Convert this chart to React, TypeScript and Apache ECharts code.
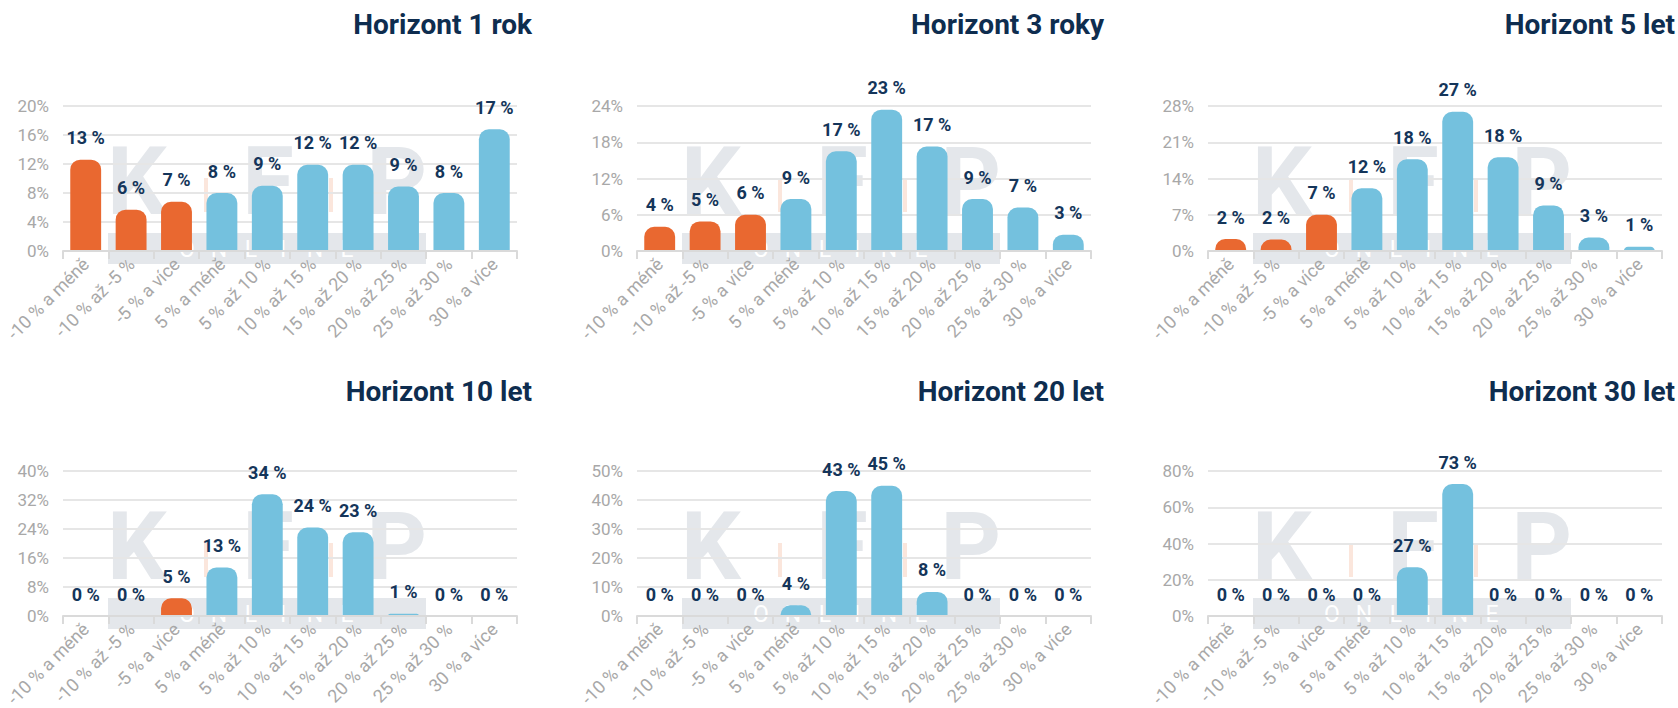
import React, { useEffect, useRef } from "react";
import * as echarts from "echarts";

const categories = [
  "-10 % a méně",
  "-10 % až -5 %",
  "-5 % a více",
  "5 % a méně",
  "5 % až 10 %",
  "10 % až 15 %",
  "15 % až 20 %",
  "20 % až 25 %",
  "25 % až 30 %",
  "30 % a více",
];

const titles = [
  "Horizont 1 rok",
  "Horizont 3 roky",
  "Horizont 5 let",
  "Horizont 10 let",
  "Horizont 20 let",
  "Horizont 30 let",
];

const horizon1 = [12.6, 5.7, 6.8, 8.0, 9.0, 11.9, 11.9, 8.9, 8.0, 16.8];
const horizon3 = [4.0, 4.9, 6.0, 8.6, 16.5, 23.4, 17.3, 8.6, 7.2, 2.7];
const horizon5 = [2.3, 2.2, 7.0, 12.1, 17.7, 26.9, 18.1, 8.8, 2.6, 0.8];
const horizon10 = [0, 0, 4.9, 13.4, 33.6, 24.4, 23.1, 0.6, 0, 0];
const horizon20 = [0, 0, 0, 3.7, 43.1, 44.9, 8.3, 0, 0, 0];
const horizon30 = [0, 0, 0, 0, 26.9, 72.8, 0, 0, 0, 0];

const seriesData = [horizon1, horizon3, horizon5, horizon10, horizon20, horizon30];
const yMax = [20, 24, 28, 40, 50, 80];
const yInterval = [4, 6, 7, 8, 10, 20];
const negativeCount = 3;

const ORANGE = "#E96830";
const BLUE = "#74C1DE";
const NAVY = "#14355A";
const GRAY_TEXT = "#A8A8A8";
const FONT = "Roboto, 'Liberation Sans', sans-serif";

const colLeft = [63, 637, 1208];
const rowTop = [106, 471];
const titleRight = [1146, 574, 3];
const titleTop = [10, 377];
const GRID_W = 454;
const GRID_H = 145;

function watermark(L: number, T: number): any[] {
  const B = T + GRID_H;
  const wmColor = "#E4E7EB";
  const els: any[] = [];
  els.push({
    type: "rect",
    z: -10,
    silent: true,
    shape: { x: L + 45, y: B - 18, width: 318, height: 31 },
    style: { fill: wmColor },
  });
  const letterY = T + 76;
  const letterStyle = { fontSize: 94, fontWeight: "bold", fontFamily: FONT, fill: wmColor, verticalAlign: "middle" };
  els.push({ type: "text", z: -10, silent: true, x: L + 44, y: letterY, style: { ...letterStyle, text: "K", align: "left" } });
  els.push({ type: "text", z: -10, silent: true, x: L + 205, y: letterY, style: { ...letterStyle, text: "F", align: "center" } });
  els.push({ type: "text", z: -10, silent: true, x: L + 364, y: letterY, style: { ...letterStyle, text: "P", align: "right" } });
  [L + 141, L + 266].forEach((x) => {
    els.push({
      type: "rect",
      z: -10,
      silent: true,
      shape: { x, y: T + 72, width: 4, height: 34 },
      style: { fill: "#FBE6DC" },
    });
  });
  const letters = ["O", "N", "L", "I", "N", "E"];
  letters.forEach((ch, i) => {
    els.push({
      type: "text",
      z: -9,
      silent: true,
      x: L + 204 + (i - 2.5) * 32,
      y: B - 2,
      style: { text: ch, fontSize: 23, fontFamily: FONT, fill: "#FFFFFF", align: "center", verticalAlign: "middle" },
    });
  });
  return els;
}

export default function App() {
  const ref = useRef<HTMLDivElement>(null);

  useEffect(() => {
    document.body.style.margin = "0";
    if (!ref.current) return;
    const chart = echarts.init(ref.current, undefined, { renderer: "svg" });

    const grids: any[] = [];
    const xAxes: any[] = [];
    const yAxes: any[] = [];
    const series: any[] = [];
    const title: any[] = [];
    const graphics: any[] = [];

    seriesData.forEach((data, i) => {
      const col = i % 3;
      const row = Math.floor(i / 3);
      const L = colLeft[col];
      const T = rowTop[row];
      grids.push({ left: L, top: T, width: GRID_W, height: GRID_H, containLabel: false, outerBoundsMode: "none" });
      title.push({
        text: titles[i],
        right: titleRight[col],
        top: titleTop[row],
        padding: 0,
        textStyle: { fontSize: 28, fontWeight: "bold", color: "#0E2D4F", fontFamily: FONT },
      });
      xAxes.push({
        type: "category",
        gridIndex: i,
        data: categories,
        boundaryGap: true,
        axisLine: { show: true, lineStyle: { color: "#DADADA", width: 2 } },
        axisTick: { show: true, alignWithLabel: false, length: 8, lineStyle: { color: "#DADADA", width: 2 } },
        axisLabel: { interval: 0, rotate: 45, color: GRAY_TEXT, fontSize: 18, fontFamily: FONT, margin: 10 },
        z: 5,
      });
      yAxes.push({
        type: "value",
        gridIndex: i,
        min: 0,
        max: yMax[i],
        interval: yInterval[i],
        axisLine: { show: false },
        axisTick: { show: false },
        axisLabel: { formatter: "{value}%", color: GRAY_TEXT, fontSize: 17, fontFamily: FONT, margin: 14 },
        splitLine: { lineStyle: { color: "#E6E6E6", width: 2 } },
      });
      series.push({
        type: "bar",
        xAxisIndex: i,
        yAxisIndex: i,
        barWidth: "68%",
        data: data.map((v, j) => ({
          value: v,
          itemStyle: { color: j < negativeCount ? ORANGE : BLUE, borderRadius: [10, 10, 0, 0] },
        })),
        label: {
          show: true,
          position: "top",
          distance: 13,
          color: NAVY,
          fontSize: 18,
          fontWeight: "bold",
          fontFamily: FONT,
          formatter: (p: any) => Math.round(p.value) + " %",
        },
        z: 3,
      });
      graphics.push(...watermark(L, T));
    });

    chart.setOption({
      animation: false,
      backgroundColor: "#FFFFFF",
      title,
      grid: grids,
      xAxis: xAxes,
      yAxis: yAxes,
      series,
      graphic: { elements: graphics },
    });

    return () => chart.dispose();
  }, []);

  return <div ref={ref} style={{ width: 1678, height: 708 }} />;
}
